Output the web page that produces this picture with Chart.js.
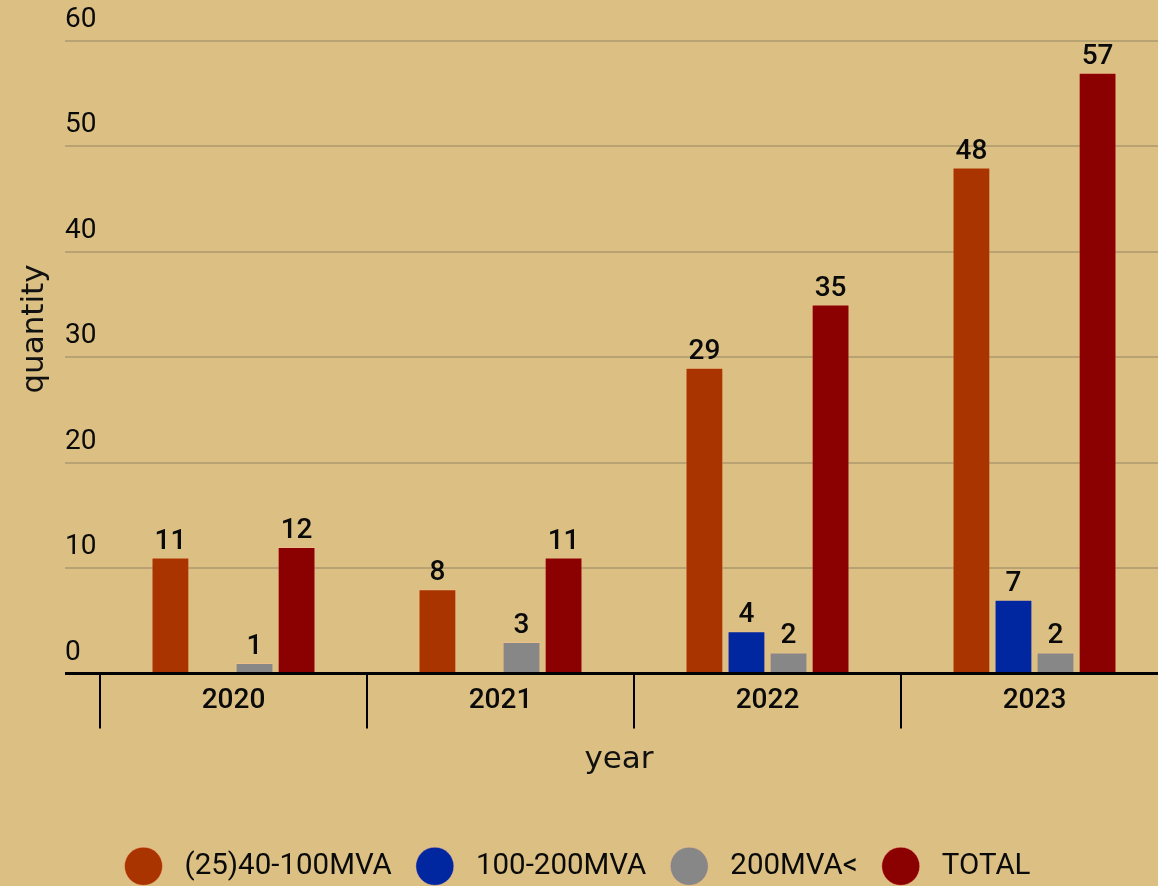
<!DOCTYPE html>
<html>
<head>
<meta charset="utf-8">
<script src="https://cdn.jsdelivr.net/npm/chart.js@4.4.0/dist/chart.umd.min.js"></script>
<style>
  html, body { margin: 0; padding: 0; background: #dcc083; overflow: hidden; }
  canvas { display: block; }
</style>
</head>
<body>
<canvas id="chart" width="1170" height="886"></canvas>
<script>
const years = ['2020', '2021', '2022', '2023'];
const mva40to100 = [11, 8, 29, 48];
const mva100to200 = [null, null, 4, 7];
const mva200plus = [1, 3, 2, 2];
const totals = [12, 11, 35, 57];
const seriesNames = ['(25)40-100MVA', '100-200MVA', '200MVA<', 'TOTAL'];
const seriesColors = ['#a93400', '#0026a0', '#878787', '#8b0000'];

Chart.defaults.font.family = 'Roboto';
Chart.defaults.color = '#000';

// numbers on top of the bars
const valueLabels = {
  id: 'valueLabels',
  afterDatasetsDraw(chart) {
    const ctx = chart.ctx;
    ctx.save();
    ctx.font = '500 28px Roboto';
    ctx.fillStyle = '#0a0a0a';
    ctx.textAlign = 'center';
    ctx.textBaseline = 'alphabetic';
    chart.data.datasets.forEach((ds, i) => {
      chart.getDatasetMeta(i).data.forEach((bar, j) => {
        const v = ds.data[j];
        if (v == null) return;
        ctx.fillText(String(v), bar.x, bar.y - 9);
      });
    });
    ctx.restore();
  }
};

// axis titles sit a bit off-centre in the original
const axisTitles = {
  id: 'axisTitles',
  afterDraw(chart) {
    const ctx = chart.ctx;
    ctx.save();
    ctx.font = '31px "DejaVu Sans"';
    ctx.fillStyle = '#111';
    ctx.textAlign = 'center';
    ctx.textBaseline = 'middle';
    ctx.fillText('year', 619, 760);
    ctx.translate(35, 329);
    ctx.rotate(-Math.PI / 2);
    ctx.fillText('quantity', 0, 0);
    ctx.restore();
  }
};

// legend is centred on the whole picture, not on the plot
const legendShift = {
  id: 'legendShift',
  afterLayout(chart) {
    chart.legend.left -= 39;
    chart.legend.right -= 39;
  }
};

const dataSets = [mva40to100, mva100to200, mva200plus, totals].map((d, i) => ({
  label: seriesNames[i],
  data: d,
  backgroundColor: seriesColors[i],
  borderColor: 'rgba(255,190,150,0.45)',
  borderWidth: 1,
  categoryPercentage: 0.63,
  barPercentage: 0.9
}));

new Chart(document.getElementById('chart'), {
  type: 'bar',
  data: { labels: years, datasets: dataSets },
  options: {
    responsive: false,
    animation: false,
    layout: { padding: { left: 65, top: 41, right: 2, bottom: -5 } },
    plugins: {
      tooltip: { enabled: false },
      legend: {
        position: 'bottom',
        labels: {
          usePointStyle: true,
          pointStyle: 'circle',
          boxHeight: 27,
          pointStyleWidth: 38,
          padding: 24,
          color: '#0a0a0a',
          font: { size: 29.5 },
          generateLabels(chart) {
            return Chart.defaults.plugins.legend.labels.generateLabels(chart)
              .map(item => Object.assign(item, { text: ' ' + item.text }));
          }
        }
      }
    },
    scales: {
      x: {
        grid: {
          offset: true,
          drawOnChartArea: false,
          tickLength: 55,
          color: '#000',
          lineWidth: 2
        },
        border: { color: '#000', width: 3 },
        ticks: { padding: -44, color: '#0a0a0a', font: { size: 28, weight: '500' } },
        afterFit(s) { s.height = 154; }
      },
      y: {
        min: 0,
        max: 60,
        border: { display: false },
        grid: {
          tickLength: 35,
          color: c => c.tick && c.tick.value === 0 ? '#000' : '#b9a272',
          lineWidth: c => c.tick && c.tick.value === 0 ? 3 : 2
        },
        ticks: {
          stepSize: 10,
          crossAlign: 'far',
          color: '#0a0a0a',
          font: { size: 28, lineHeight: 1.5 },
          callback: v => [String(v), '']
        },
        afterFit(s) {
          s.width = 35;
          s.paddingTop = 0;
          s.paddingBottom = 0;
        }
      }
    }
  },
  plugins: [valueLabels, axisTitles, legendShift]
});
</script>
</body>
</html>
